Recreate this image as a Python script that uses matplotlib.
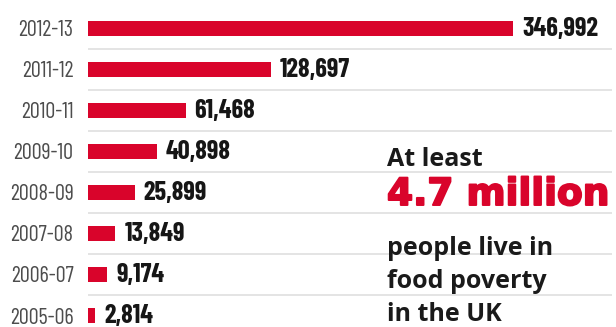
import numpy as np
import matplotlib
matplotlib.use("Agg")
import matplotlib.pyplot as plt
import matplotlib.patheffects as pe

# data (top row first)
years = ["2012-13", "2011-12", "2010-11", "2009-10",
         "2008-09", "2007-08", "2006-07", "2005-06"]
people = [346992, 128697, 61468, 40898, 25899, 13849, 9174, 2814]

RED = "#d9042b"
W, H = 616, 327
COND = ["Barlow Condensed", "DejaVu Sans"]


def fwd(v):
    return np.sign(v) * np.abs(v) ** 0.85


def inv(v):
    return np.sign(v) * np.abs(v) ** (1 / 0.85)


fig = plt.figure(figsize=(W / 100, H / 100), dpi=100)
fig.patch.set_facecolor("white")

ax = fig.add_axes([88 / W, 0, (612 - 88) / W, 1])
ax.set_xscale("function", functions=(fwd, inv))
ax.set_xlim(0, 444000)

pos = np.arange(len(years))
ax.set_ylim(7.28, -0.682)

# light separators between rows
ax.hlines(pos[:-1] + 0.5, 0, 444000, color="#e2e2e2", lw=1.3, zorder=1)

ax.barh(pos, people, height=0.365, color=RED, zorder=2)

for p, v in zip(pos, people):
    ax.annotate(f"{v:,}", (v, p), xytext=(6.5, -0.5), textcoords="offset points",
                va="center", ha="left", fontsize=19, fontweight="bold",
                family=COND, color="#161616")

ax.set_yticks(pos)
ax.set_yticklabels(years, family=COND, fontsize=16, color="#4d4d4d")
ax.tick_params(axis="y", length=0, pad=10.5)
ax.set_xticks([])
ax.xaxis.set_minor_locator(matplotlib.ticker.NullLocator())
for s in ax.spines.values():
    s.set_visible(False)


def ftext(x, y, s, **kw):
    return fig.text(x / W, 1 - y / H, s, va="baseline", ha="left", **kw)


ftext(387, 166, "At least", fontsize=18, fontweight="bold",
      family="Open Sans", color="#1a1a1a")
big = ftext(387, 205, "4.7 million", fontsize=27, fontweight="bold",
            family="DejaVu Sans", color=RED)
big.set_path_effects([pe.withStroke(linewidth=1.4, foreground=RED)])
for y, line in zip([255, 288, 321], ["people live in", "food poverty", "in the UK"]):
    ftext(387, y, line, fontsize=18, fontweight="bold",
          family="Open Sans", color="#1a1a1a")

fig.savefig("out.png", dpi=100)
